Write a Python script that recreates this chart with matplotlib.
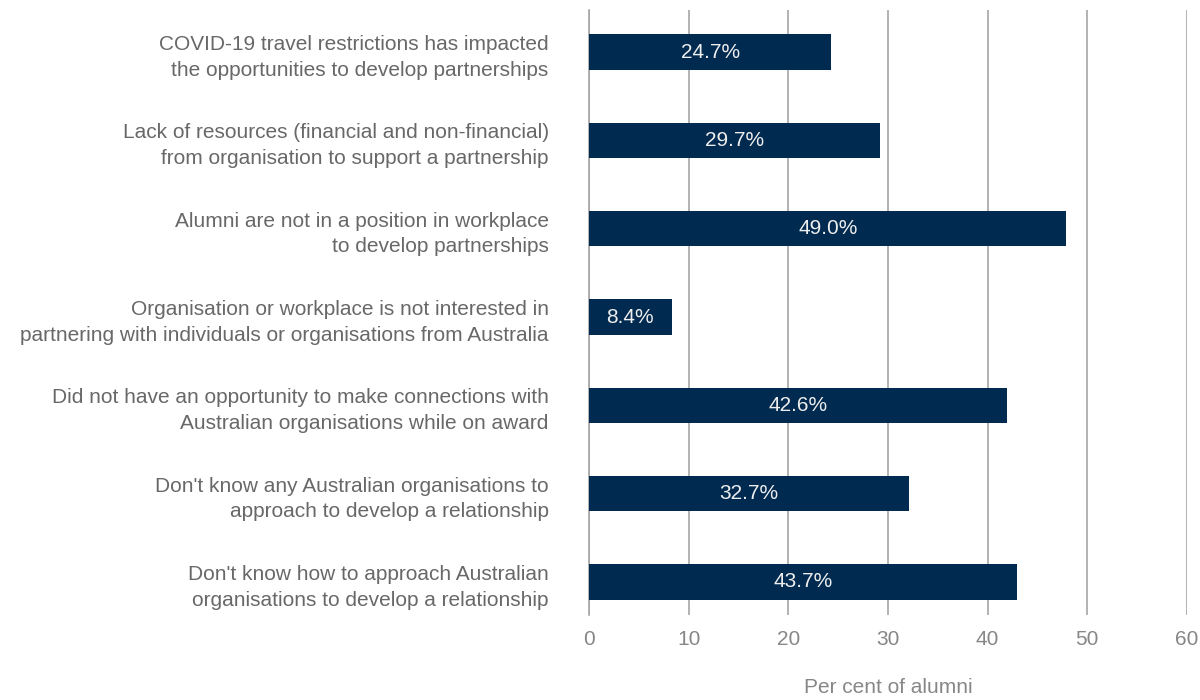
import matplotlib
matplotlib.use("Agg")
import matplotlib.pyplot as plt
from matplotlib.transforms import ScaledTranslation

plt.rcParams["font.family"] = ["Liberation Sans", "DejaVu Sans"]

CATEGORIES = [
    "COVID-19 travel restrictions has impacted\nthe opportunities to develop partnerships",
    "Lack of resources (financial and non-financial)\nfrom organisation to support a partnership",
    "Alumni are not in a position in workplace\nto develop partnerships",
    "Organisation or workplace is not interested in\npartnering with individuals or organisations from Australia",
    "Did not have an opportunity to make connections with\nAustralian organisations while on award",
    "Don't know any Australian organisations to\napproach to develop a relationship",
    "Don't know how to approach Australian\norganisations to develop a relationship",
]
# bar lengths as drawn in the picture
BAR_VALUES = [24.3, 29.2, 47.9, 8.3, 41.9, 32.1, 42.9]
# value labels printed on the bars
BAR_LABELS = ["24.7%", "29.7%", "49.0%", "8.4%", "42.6%", "32.7%", "43.7%"]
X_TICKS = [0, 10, 20, 30, 40, 50, 60]

BAR_COLOR = "#002a4f"
TEXT_COLOR = "#686868"
TICK_COLOR = "#878787"
GRID_COLOR = "#a6a6a6"
FS = 15


def main():
    fig = plt.figure(figsize=(12, 7), dpi=100)
    ax = fig.add_axes([589 / 1200, 1 - 615 / 700, (1187 - 589) / 1200, (615 - 10) / 700])

    y = list(range(len(CATEGORIES)))
    ax.barh(y, BAR_VALUES, height=0.4, color=BAR_COLOR, zorder=3)
    for yi, v, lab in zip(y, BAR_VALUES, BAR_LABELS):
        ax.text(v / 2, yi, lab, ha="center", va="center", color="#eeeeee",
                fontsize=FS, zorder=4)

    ax.set_ylim(len(CATEGORIES) - 1 + 0.374, -0.476)
    ax.set_xlim(0, 60)
    ax.set_yticks(y)
    ax.set_yticklabels(CATEGORIES, fontsize=FS, color=TEXT_COLOR, linespacing=1.45)
    ax.set_xticks(X_TICKS)
    ax.set_xticklabels([str(t) for t in X_TICKS], fontsize=FS, color=TICK_COLOR)

    # nudge category labels up a few pixels
    shift = ScaledTranslation(0, 3 / 100, fig.dpi_scale_trans)
    for lab in ax.get_yticklabels():
        lab.set_horizontalalignment("right")
        lab.set_transform(lab.get_transform() + shift)

    ax.tick_params(axis="y", length=0, pad=29)
    ax.tick_params(axis="x", length=0, pad=11)
    ax.xaxis.grid(True, color=GRID_COLOR, linewidth=1.2, zorder=0)
    ax.yaxis.grid(False)
    for side in ["top", "right", "bottom"]:
        ax.spines[side].set_visible(False)
    ax.spines["left"].set_color(GRID_COLOR)
    ax.spines["left"].set_linewidth(1.2)

    ax.set_xlabel("Per cent of alumni", fontsize=FS, color=TICK_COLOR, labelpad=21)

    fig.savefig("out.png", dpi=100)


if __name__ == "__main__":
    main()
